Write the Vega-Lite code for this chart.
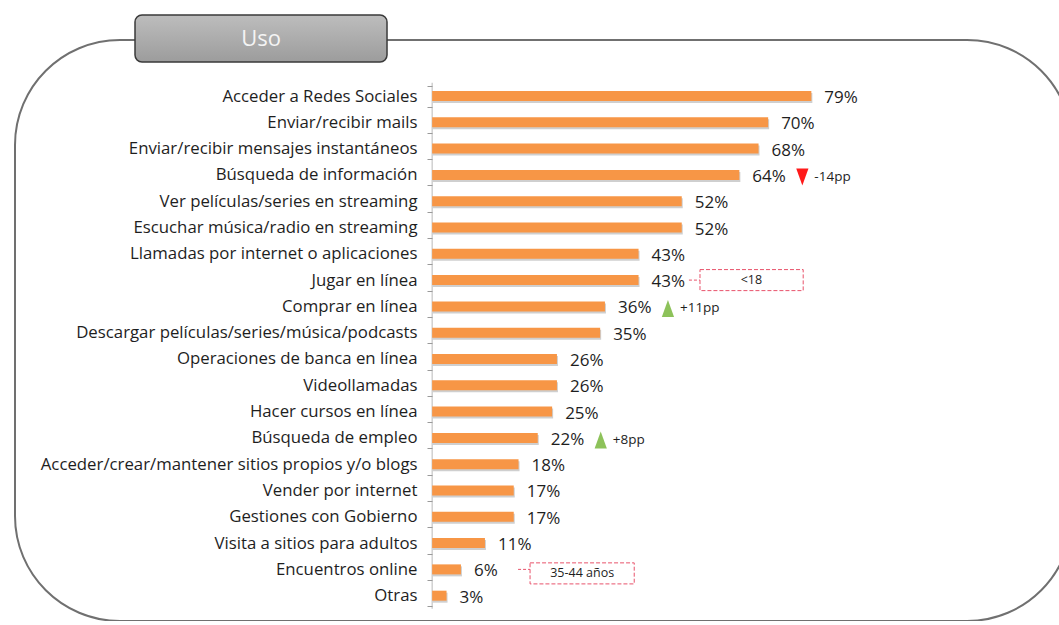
{
  "$schema": "https://vega.github.io/schema/vega-lite/v6.json",
  "width": 1057,
  "height": 581,
  "autosize": {"type": "none"},
  "padding": {"left": 15, "top": 40, "right": 0, "bottom": 0},
  "background": "white",
  "config": {
    "view": {"stroke": "#707070", "strokeWidth": 2, "cornerRadius": 105},
    "font": "Open Sans"
  },
  "data": {
    "values": [
      {"uso": "Acceder a Redes Sociales", "pct": 0.79},
      {"uso": "Enviar/recibir mails", "pct": 0.70},
      {"uso": "Enviar/recibir mensajes instantáneos", "pct": 0.68},
      {"uso": "Búsqueda de información", "pct": 0.64, "cambio": "-14pp", "dir": "down"},
      {"uso": "Ver películas/series en streaming", "pct": 0.52},
      {"uso": "Escuchar música/radio en streaming", "pct": 0.52},
      {"uso": "Llamadas por internet o aplicaciones", "pct": 0.43},
      {"uso": "Jugar en línea", "pct": 0.43, "nota": "<18"},
      {"uso": "Comprar en línea", "pct": 0.36, "cambio": "+11pp", "dir": "up"},
      {"uso": "Descargar películas/series/música/podcasts", "pct": 0.35},
      {"uso": "Operaciones de banca en línea", "pct": 0.26},
      {"uso": "Videollamadas", "pct": 0.26},
      {"uso": "Hacer cursos en línea", "pct": 0.25},
      {"uso": "Búsqueda de empleo", "pct": 0.22, "cambio": "+8pp", "dir": "up"},
      {"uso": "Acceder/crear/mantener sitios propios y/o blogs", "pct": 0.18},
      {"uso": "Vender por internet", "pct": 0.17},
      {"uso": "Gestiones con Gobierno", "pct": 0.17},
      {"uso": "Visita a sitios para adultos", "pct": 0.11},
      {"uso": "Encuentros online", "pct": 0.06, "nota": "35-44 años"},
      {"uso": "Otras", "pct": 0.03}
    ]
  },
  "encoding": {
    "y": {
      "field": "uso",
      "type": "nominal",
      "sort": null,
      "scale": {"range": [45.5, 566.2], "paddingInner": 0.2, "paddingOuter": 0},
      "axis": {
        "title": null,
        "offset": -417,
        "domain": false,
        "ticks": true,
        "tickBand": "extent",
        "tickSize": 5,
        "tickColor": "#9a9a9a",
        "labelPadding": 10,
        "labelFontSize": 16.8,
        "labelColor": "#1e1e1e",
        "labelFont": "Open Sans",
        "labelLimit": 600
      }
    }
  },
  "layer": [
    {
      "mark": {"type": "tick", "orient": "vertical", "size": 26.3, "thickness": 1, "color": "#9a9a9a"},
      "encoding": {
        "x": {"datum": 0, "type": "quantitative", "scale": {"domain": [-0.869, 1.333], "nice": false, "zero": false}, "axis": null}
      }
    },
    {
      "mark": {"type": "bar", "size": 10, "color": "#cfcfcf", "yOffset": 2, "xOffset": 1},
      "encoding": {
        "x": {"field": "pct", "type": "quantitative", "scale": {"domain": [-0.869, 1.333], "nice": false, "zero": false}, "axis": null},
        "x2": {"datum": 0}
      }
    },
    {
      "mark": {"type": "bar", "size": 10, "color": "#F79646"},
      "encoding": {
        "x": {"field": "pct", "type": "quantitative", "scale": {"domain": [-0.869, 1.333], "nice": false, "zero": false}, "axis": null},
        "x2": {"datum": 0}
      }
    },
    {
      "mark": {"type": "text", "align": "left", "baseline": "middle", "dx": 13, "dy": 2, "fontSize": 17, "color": "#1e1e1e"},
      "encoding": {
        "x": {"field": "pct", "type": "quantitative", "scale": {"domain": [-0.869, 1.333], "nice": false, "zero": false}, "axis": null},
        "text": {"field": "pct", "type": "quantitative", "format": ".0%"}
      }
    },
    {
      "transform": [{"filter": "isValid(datum.dir)"}],
      "mark": {"type": "point", "filled": true, "opacity": 1, "size": 289, "xOffset": 63, "yOffset": 2},
      "encoding": {
        "x": {"field": "pct", "type": "quantitative", "scale": {"domain": [-0.869, 1.333], "nice": false, "zero": false}, "axis": null},
        "shape": {"field": "dir", "type": "nominal", "scale": {"domain": ["down", "up"], "range": ["M-0.72,-1L0.72,-1L0,1Z", "M0,-1L0.72,1L-0.72,1Z"]}, "legend": null},
        "color": {"field": "dir", "type": "nominal", "scale": {"domain": ["down", "up"], "range": ["#FF1A1A", "#8DC25A"]}, "legend": null}
      }
    },
    {
      "transform": [{"filter": "isValid(datum.cambio)"}],
      "mark": {"type": "text", "align": "left", "baseline": "middle", "dx": 75, "dy": 2, "fontSize": 13.5, "color": "#1e1e1e"},
      "encoding": {
        "x": {"field": "pct", "type": "quantitative", "scale": {"domain": [-0.869, 1.333], "nice": false, "zero": false}, "axis": null},
        "text": {"field": "cambio"}
      }
    },
    {
      "transform": [{"filter": "datum.nota == '<18'"}],
      "layer": [
        {
          "mark": {"type": "rect", "fill": null, "stroke": "#E8536B", "strokeWidth": 1, "strokeDash": [4, 2]},
          "encoding": {"x": {"datum": 0.558, "type": "quantitative"}, "x2": {"datum": 0.773}}
        },
        {
          "mark": {"type": "rule", "stroke": "#E8536B", "strokeWidth": 1, "strokeDash": [3, 2]},
          "encoding": {"x": {"datum": 0.535, "type": "quantitative"}, "x2": {"datum": 0.558}}
        },
        {
          "mark": {"type": "text", "align": "center", "baseline": "middle", "fontSize": 12.5, "color": "#1e1e1e"},
          "encoding": {"x": {"datum": 0.665, "type": "quantitative"}, "text": {"field": "nota"}}
        }
      ]
    },
    {
      "transform": [{"filter": "datum.nota == '35-44 años'"}],
      "layer": [
        {
          "mark": {"type": "rect", "fill": null, "stroke": "#E8536B", "strokeWidth": 1, "strokeDash": [4, 2], "yOffset": 4},
          "encoding": {"x": {"datum": 0.204, "type": "quantitative"}, "x2": {"datum": 0.421}}
        },
        {
          "mark": {"type": "rule", "stroke": "#E8536B", "strokeWidth": 1, "strokeDash": [3, 2]},
          "encoding": {"x": {"datum": 0.179, "type": "quantitative"}, "x2": {"datum": 0.204}}
        },
        {
          "mark": {"type": "text", "align": "center", "baseline": "middle", "fontSize": 12.5, "color": "#1e1e1e", "dy": 4},
          "encoding": {"x": {"datum": 0.3125, "type": "quantitative"}, "text": {"field": "nota"}}
        }
      ]
    },
    {
      "data": {"values": [{"seccion": "Uso"}]},
      "layer": [
        {
          "mark": {
            "type": "rect",
            "cornerRadius": 7,
            "stroke": "#3a3a3a",
            "strokeWidth": 1.5,
            "color": {"gradient": "linear", "x1": 0, "y1": 0, "x2": 0, "y2": 1, "stops": [{"offset": 0, "color": "#bdbdbd"}, {"offset": 1, "color": "#9c9c9c"}]}
          },
          "encoding": {
            "x": {"datum": -0.619, "type": "quantitative"},
            "x2": {"datum": -0.094},
            "y": {"value": -25},
            "y2": {"value": 22}
          }
        },
        {
          "mark": {"type": "text", "align": "center", "baseline": "middle", "fontSize": 22, "color": "#f4f4f4", "font": "Open Sans"},
          "encoding": {
            "x": {"datum": -0.3565, "type": "quantitative"},
            "y": {"value": -1},
            "text": {"field": "seccion"}
          }
        }
      ]
    }
  ]
}
